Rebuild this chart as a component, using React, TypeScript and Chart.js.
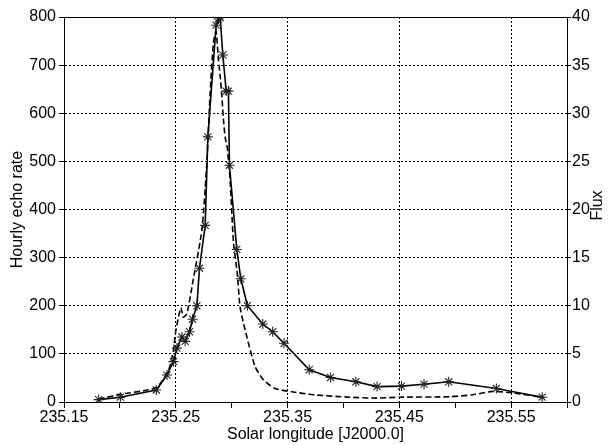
import React, { useEffect, useRef } from "react";
import { Chart, registerables } from "chart.js";

Chart.register(...registerables);

// Hourly echo rate (left axis), solid line with asterisks
const echoLongitude = [
  235.181, 235.2004, 235.2326, 235.2421, 235.248, 235.251, 235.2555, 235.2584,
  235.2623, 235.265, 235.2689, 235.2712, 235.2763, 235.2787, 235.2861, 235.2882,
  235.2897, 235.2921, 235.2951, 235.2971, 235.298, 235.3046, 235.3082, 235.3141,
  235.3278, 235.3367, 235.3468, 235.3694, 235.3885, 235.4111, 235.4301, 235.4519,
  235.4721, 235.4942, 235.5368, 235.5778,
];
const echoRate = [
  5, 10, 25, 56, 84, 112, 135, 126, 146, 172, 200, 278, 367, 551, 783, 796, 799,
  721, 646, 646, 492, 317, 256, 200, 162, 146, 122, 67, 51, 42, 32, 33, 37, 42,
  28, 10,
];

// Flux (right axis), dashed line
const fluxLongitude = [
  235.181, 235.2004, 235.2326, 235.2435, 235.248, 235.2495, 235.2525, 235.2546,
  235.2567, 235.26, 235.2656, 235.2734, 235.2778, 235.2808, 235.2837, 235.2861,
  235.2882, 235.2897, 235.2912, 235.2926, 235.2942, 235.2962, 235.2986, 235.3001,
  235.3017, 235.3049, 235.3076, 235.3135, 235.3209, 235.3284, 235.3388, 235.3537,
  235.373, 235.4058, 235.4296, 235.4504, 235.4951, 235.5156, 235.5334, 235.5513,
  235.5781,
];
const fluxValues = [
  0.3, 0.8, 1.5, 3.3, 5.4, 7.0, 8.9, 9.8, 8.8, 9.2, 12.7, 17.9, 24.9, 32.2, 37.4,
  38.5, 35.5, 33.9, 31.8, 29.4, 27.5, 26.3, 23.1, 19.7, 16.5, 13.5, 9.8, 6.8, 3.7,
  2.3, 1.4, 1.07, 0.75, 0.5, 0.4, 0.5, 0.55, 0.75, 1.1, 0.95, 0.5,
];

const xMin = 235.15;
const xMax = 235.6;
const xStep = 0.05;
const echoMax = 800;
const echoStep = 100;
const fluxMax = 40;
const fluxStep = 5;
const fluxTitle = "Flux";

const FONT = { family: "'Liberation Sans', Arial, sans-serif", size: 16 };

const isMajor = (v: number) => Math.round(v * 100) % 10 === 5;

const frame = {
  id: "frameTop",
  afterDatasetsDraw(chart: any) {
    const { ctx, chartArea } = chart;
    ctx.save();
    ctx.strokeStyle = "#000";
    ctx.lineWidth = 1;
    ctx.beginPath();
    ctx.moveTo(chartArea.left, chartArea.top + 0.5);
    ctx.lineTo(chartArea.right, chartArea.top + 0.5);
    ctx.stroke();
    // right axis title, reading bottom-to-top
    const s = chart.scales.y2;
    ctx.translate(s.right - 14, (chartArea.top + chartArea.bottom) / 2 - 4);
    ctx.rotate(-Math.PI / 2);
    ctx.fillStyle = "#000";
    ctx.font = `${FONT.size}px ${FONT.family}`;
    ctx.textAlign = "center";
    ctx.textBaseline = "middle";
    ctx.fillText(fluxTitle, 0, 0);
    ctx.restore();
  },
};

export default function App() {
  const ref = useRef<HTMLCanvasElement>(null);
  useEffect(() => {
    document.body.style.margin = "0";
    const chart = new Chart(ref.current!, {
      type: "line",
      data: {
        datasets: [
          {
            label: "Hourly echo rate",
            data: echoLongitude.map((x, i) => ({ x, y: echoRate[i] })),
            yAxisID: "y",
            borderColor: "#000",
            borderWidth: 1.6,
            pointStyle: "star",
            pointRadius: 5,
            pointBorderColor: "#222",
            pointBorderWidth: 1.1,
            pointBackgroundColor: "#222",
            tension: 0,
            fill: false,
          },
          {
            label: "Flux",
            data: fluxLongitude.map((x, i) => ({ x, y: fluxValues[i] })),
            yAxisID: "y2",
            borderColor: "#000",
            borderWidth: 1.6,
            borderDash: [6, 3],
            pointRadius: 0,
            tension: 0.2,
            fill: false,
          },
        ],
      },
      options: {
        animation: false,
        responsive: false,
        layout: { padding: { top: 17, left: 0, right: 0, bottom: 0 } },
        plugins: { legend: { display: false }, tooltip: { enabled: false } },
        scales: {
          x: {
            type: "linear",
            min: xMin,
            max: xMax,
            afterFit: (s: any) => {
              s.height = 43;
            },
            ticks: {
              stepSize: xStep,
              autoSkip: false,
              maxRotation: 0,
              color: "#000",
              font: FONT,
              padding: 0,
              callback: (v: any) => (isMajor(Number(v)) ? Number(v).toFixed(2) : ""),
            },
            grid: {
              color: (c: any) =>
                c.tick && c.index > 0 && isMajor(c.tick.value) ? "#000" : "rgba(0,0,0,0)",
              tickColor: "#000",
              tickLength: 6,
              lineWidth: 1,
            },
            border: { display: true, color: "#000", width: 1, dash: [2, 2] },
            title: {
              display: true,
              text: "Solar longitude [J2000.0]",
              color: "#000",
              font: FONT,
              padding: { top: 0, bottom: 1 },
            },
          },
          y: {
            position: "left",
            min: 0,
            max: echoMax,
            afterFit: (s: any) => {
              s.width = 64;
            },
            ticks: { stepSize: echoStep, color: "#000", font: FONT, padding: 3 },
            grid: {
              color: (c: any) => (c.index > 0 ? "#000" : "rgba(0,0,0,0)"),
              tickColor: "#000",
              tickLength: 5,
              lineWidth: 1,
            },
            border: { display: true, color: "#000", width: 1, dash: [2, 2] },
            title: {
              display: true,
              text: "Hourly echo rate",
              color: "#000",
              font: FONT,
              padding: { top: 8, bottom: 0 },
            },
          },
          y2: {
            position: "right",
            min: 0,
            max: fluxMax,
            afterFit: (s: any) => {
              s.width = 45;
            },
            ticks: { stepSize: fluxStep, color: "#000", font: FONT, padding: 1 },
            grid: {
              drawOnChartArea: false,
              tickColor: "#000",
              tickLength: 4,
              lineWidth: 1,
            },
            border: { display: true, color: "#000", width: 1 },
            title: { display: false },
          },
        },
      },
      plugins: [frame],
    });
    return () => chart.destroy();
  }, []);
  return <canvas ref={ref} width={612} height={445} />;
}
